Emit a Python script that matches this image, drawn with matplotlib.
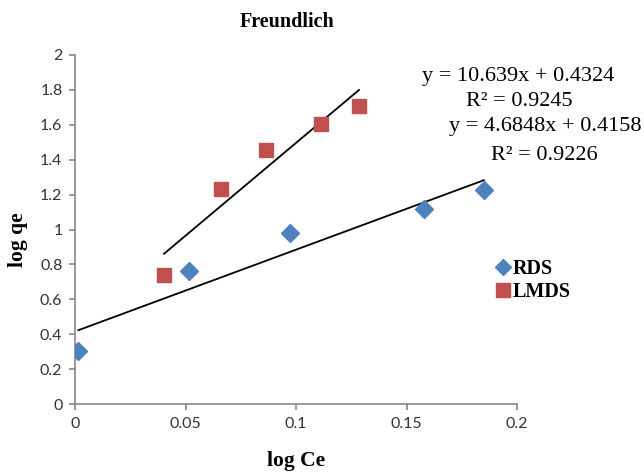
import numpy as np
import matplotlib
matplotlib.use("Agg")
import matplotlib.pyplot as plt

# Data
rds_x = [0.0015, 0.0514, 0.0973, 0.158, 0.185]
rds_y = [0.304, 0.762, 0.978, 1.117, 1.226]
lmds_x = [0.0403, 0.0659, 0.0864, 0.1113, 0.1285]
lmds_y = [0.739, 1.230, 1.455, 1.603, 1.709]

rds_slope, rds_intercept, rds_r2 = 4.6848, 0.4158, 0.9226
lmds_slope, lmds_intercept, lmds_r2 = 10.639, 0.4324, 0.9245

x_ticks = [0, 0.05, 0.1, 0.15, 0.2]
x_labels = ["0", "0.05", "0.1", "0.15", "0.2"]
y_ticks = [0, 0.2, 0.4, 0.6, 0.8, 1.0, 1.2, 1.4, 1.6, 1.8, 2.0]
y_labels = ["0", "0.2", "0.4", "0.6", "0.8", "1", "1.2", "1.4", "1.6", "1.8", "2"]

W, H = 644, 474
fig = plt.figure(figsize=(W / 100, H / 100), dpi=100)
ax = fig.add_axes([75 / W, (H - 404) / H, 442 / W, 349 / H])

blue = "#4F81BD"
red = "#C0504D"
serif = "Liberation Serif"
sans = "Lato"

# trend lines
xr = np.array([min(rds_x), max(rds_x)])
ax.plot(xr, rds_slope * xr + rds_intercept, color="black", lw=1.3, zorder=2)
xl = np.array([min(lmds_x), max(lmds_x)])
ax.plot(xl, lmds_slope * xl + lmds_intercept, color="black", lw=1.3, zorder=2)

h1, = ax.plot(rds_x, rds_y, linestyle="none", marker="D", ms=9, color=blue,
              markeredgecolor=blue, label="RDS", zorder=3)
h2, = ax.plot(lmds_x, lmds_y, linestyle="none", marker="s", ms=10.5, color=red,
              markeredgecolor=red, label="LMDS", zorder=3)

ax.set_xlim(0, 0.2)
ax.set_ylim(0, 2)
ax.set_xticks(x_ticks)
ax.set_xticklabels(x_labels)
ax.set_yticks(y_ticks)
ax.set_yticklabels(y_labels)

for s in ["top", "right"]:
    ax.spines[s].set_visible(False)
for s in ["left", "bottom"]:
    ax.spines[s].set_color("#868686")
    ax.spines[s].set_linewidth(1.2)
ax.tick_params(axis="both", direction="out", length=4, width=1.2, color="#868686",
               labelsize=11.5, labelcolor="#333333", pad=5)
for lab in ax.get_xticklabels() + ax.get_yticklabels():
    lab.set_fontfamily(sans)

fig.text(287 / W, 1 - 22 / H, "Freundlich", ha="center", va="center",
         fontfamily=serif, fontweight="bold", fontsize=14.5)
fig.text(296 / W, 1 - 461 / H, "log Ce", ha="center", va="center",
         fontfamily=serif, fontweight="bold", fontsize=15.5)
fig.text(18 / W, 1 - 240 / H, "log qe", ha="center", va="center", rotation=90,
         fontfamily=serif, fontweight="bold", fontsize=15.5)

# equations
eq_fs = 16
fig.text(518 / W, 1 - 77 / H, f"y = {lmds_slope}x + {lmds_intercept}", ha="center",
         va="center", fontfamily=serif, fontsize=eq_fs)
fig.text(519 / W, 1 - 102 / H, f"R² = {lmds_r2}", ha="center", va="center",
         fontfamily=serif, fontsize=eq_fs)
fig.text(545 / W, 1 - 127 / H, f"y = {rds_slope}x + {rds_intercept}", ha="center",
         va="center", fontfamily=serif, fontsize=eq_fs)
fig.text(544 / W, 1 - 155 / H, f"R² = {rds_r2}", ha="center", va="center",
         fontfamily=serif, fontsize=eq_fs)

leg = ax.legend(handles=[h1, h2], loc="upper left",
                bbox_to_anchor=(497 / W, 1 - 259 / H), bbox_transform=fig.transFigure,
                frameon=False, handlelength=0.55, handletextpad=0.25, labelspacing=0.15,
                borderaxespad=0, borderpad=0,
                prop={"family": serif, "weight": "bold", "size": 14.5})
leg.legend_handles[0].set_markersize(8.5)
leg.legend_handles[1].set_markersize(10)

fig.savefig("out.png", dpi=100)
